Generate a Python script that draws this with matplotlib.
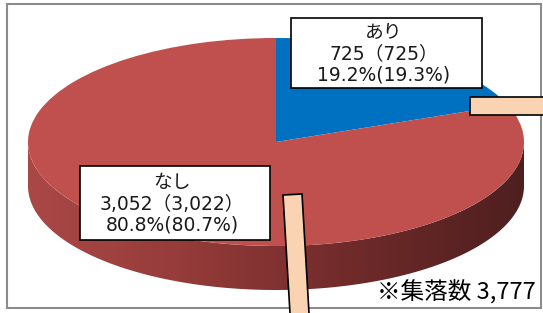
import numpy as np
import matplotlib

matplotlib.use("Agg")
import matplotlib.pyplot as plt
from matplotlib.patches import Polygon, Rectangle

plt.rcParams["font.family"] = ["Noto Sans CJK JP", "DejaVu Sans"]

categories = ["あり", "なし"]
counts = [725, 3052]
prev_counts = [725, 3022]
shares = [19.2, 80.8]
prev_shares = [19.3, 80.7]
total = 3777
colors = ["#0070C0", "#C0504D"]

W, H = 543, 313
fig = plt.figure(figsize=(W / 100, H / 100), dpi=100)

# pie ellipse geometry (pixels, y from top)
cx, cy, rx, ry, depth = 276, 142, 248, 104, 44

ax = fig.add_axes([0, 0, 1, 1])
ax.set_axis_off()

# side of the cylinder (front half, all red) with a shading gradient
d = depth / ry
t = np.linspace(np.pi, 2 * np.pi, 300)
top = np.column_stack([np.cos(t), np.sin(t)])
bot = np.column_stack([np.cos(t), np.sin(t) - d])[::-1]
side = Polygon(np.vstack([top, bot]), closed=True, facecolor="none", edgecolor="none")
ax.add_patch(side)

xs = np.linspace(-1, 1, 400)
stops_x = [-1.0, -0.4, 0.3, 1.0]
stops_c = np.array([[170, 72, 70], [150, 60, 58], [112, 42, 42], [78, 31, 31]]) / 255
grad = np.stack([np.interp(xs, stops_x, stops_c[:, k]) for k in range(3)], axis=-1)[None, :, :]
im = ax.imshow(grad, extent=(-1, 1, -1 - d, 0.1), aspect="auto", zorder=1)
im.set_clip_path(side)

wedges, _ = ax.pie(counts, startangle=90, counterclock=False, colors=colors,
                   wedgeprops=dict(linewidth=0, zorder=2))
ax.set_aspect("auto")
ax.set_xlim(-cx / rx, (W - cx) / rx)
ax.set_ylim((cy - H) / ry, cy / ry)

# overlay in pixel coordinates for boxes, leaders and note
ov = fig.add_axes([0, 0, 1, 1])
ov.set_axis_off()
ov.set_xlim(0, W)
ov.set_ylim(H, 0)

ov.add_patch(Rectangle((7, 4), 534, 304, fill=False, edgecolor="#8c8c8c", lw=1.5))

peach = "#FAD3B2"
ov.add_patch(Polygon([(470, 97), (560, 97), (560, 115), (470, 115)],
                     facecolor=peach, edgecolor="black", lw=1.2))
ov.add_patch(Polygon([(283, 195), (302, 194), (310, 330), (291, 330)],
                     facecolor=peach, edgecolor="black", lw=1.2))


def label(i):
    return (f"{categories[i]}\n{counts[i]:,}（{prev_counts[i]:,}）\n"
            f"{shares[i]:.1f}%({prev_shares[i]:.1f}%)")


boxes = [(291, 18, 191, 70), (80, 166, 190, 74)]
for i, (bx, by, bw, bh) in enumerate(boxes):
    ov.add_patch(Rectangle((bx, by), bw, bh, facecolor="white", edgecolor="black", lw=1.2))
    ov.text(bx + bw / 2 - 3, by + bh / 2 + 1, label(i), ha="center", va="center",
            multialignment="center", fontsize=13.5, linespacing=1.15, color="#1a1a1a",
            family=["DejaVu Sans", "Noto Sans CJK JP"])

ov.text(536, 292, f"※集落数 {total:,}", ha="right", va="center", fontsize=17)

fig.savefig("out.png", dpi=100)
